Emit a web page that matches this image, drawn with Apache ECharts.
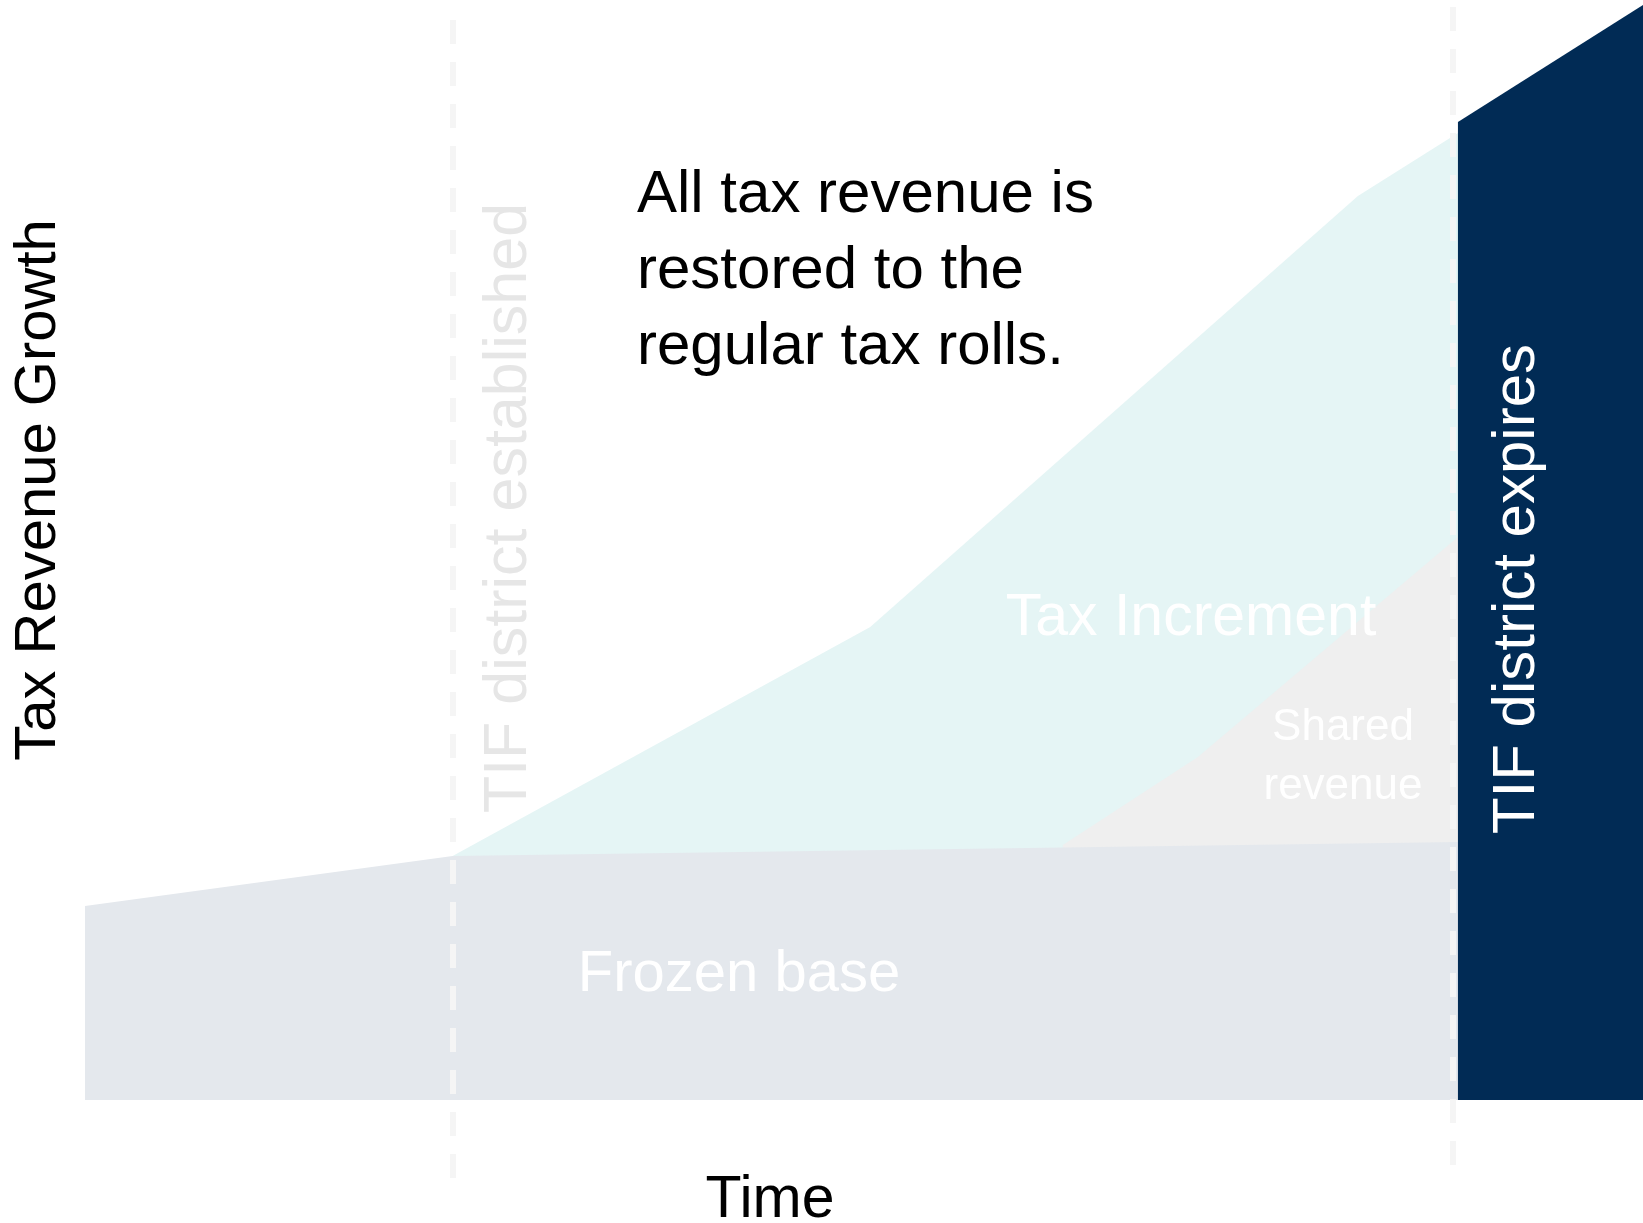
<!DOCTYPE html>
<html>
<head>
<meta charset="utf-8">
<title>Tax Increment Financing</title>
<script src="https://cdn.jsdelivr.net/npm/echarts@6/dist/echarts.min.js"></script>
<style>
  html, body { margin: 0; padding: 0; background: #ffffff; }
  #chart { width: 1643px; height: 1223px; }
</style>
</head>
<body>
<div id="chart"></div>
<script>
// Years relative to the creation of the TIF district
const establishedYear = 0;
const expiryYear = 20;

// Frozen assessed base (grows slowly before creation, then held)
const baseTime = [-7.35, 0, 20.1];
const baseValue = [19.4, 24.4, 25.8];

// Total tax revenue inside the district while the TIF is active
const totalTime = [0, 8.35, 18.1, 20.1];
const totalValue = [24.4, 47.3, 90.4, 96.7];

// Portion of the increment shared with other taxing bodies
const sharedTime = [12.2, 14.9, 20.1];
const sharedValue = [25.5, 34.3, 56.3];

// Revenue after the district expires
const afterTime = [20.1, 23.8];
const afterValue = [97.8, 109.5];

const pairs = (xs, ys) => xs.map((x, i) => [x, ys[i]]);

const FONT = '"Liberation Sans", Arial, sans-serif';

function areaSeries(name, xs, ys, color, z) {
  return {
    name: name,
    type: 'line',
    data: pairs(xs, ys),
    showSymbol: false,
    symbol: 'none',
    silent: true,
    z: z,
    lineStyle: { width: 0, color: color },
    areaStyle: { color: color, opacity: 1 }
  };
}

const chart = echarts.init(document.getElementById('chart'), null, { renderer: 'canvas' });

chart.setOption({
  animation: false,
  backgroundColor: '#ffffff',
  grid: { left: 0, right: 0, top: 0, bottom: 0, containLabel: false },
  xAxis: {
    type: 'value', min: -9.05, max: 23.8,
    show: false, splitLine: { show: false }
  },
  yAxis: {
    type: 'value', min: -12.3, max: 110,
    show: false, splitLine: { show: false }
  },
  series: [
    areaSeries('Tax Increment', totalTime, totalValue, '#e5f5f5', 1),
    areaSeries('Shared revenue', sharedTime, sharedValue, '#efefef', 2),
    areaSeries('Frozen base', baseTime, baseValue, '#e4e8ed', 3),
    areaSeries('After expiry', afterTime, afterValue, '#012b55', 3),
    {
      name: 'Milestones',
      type: 'line',
      data: [],
      z: 5,
      markLine: {
        silent: true,
        symbol: ['none', 'none'],
        label: { show: false },
        lineStyle: { color: '#f5f5f5', width: 6, type: [24, 18], opacity: 1 },
        data: [
          [{ coord: [establishedYear, 108] }, { coord: [establishedYear, -7.8] }],
          [{ coord: [expiryYear, 109.3] }, { coord: [expiryYear, -6.5] }]
        ]
      }
    }
  ],
  graphic: [
    {
      type: 'text', x: 39, y: 490, rotation: Math.PI / 2, z: 10,
      style: { text: 'Tax Revenue Growth', font: '58px ' + FONT, fill: '#000000', align: 'center', verticalAlign: 'middle' }
    },
    {
      type: 'text', x: 770, y: 1201, z: 10,
      style: { text: 'Time', font: '59px ' + FONT, fill: '#000000', align: 'center', verticalAlign: 'middle' }
    },
    {
      type: 'text', x: 509, y: 508, rotation: Math.PI / 2, z: 10,
      style: { text: 'TIF district established', font: '61px ' + FONT, fill: '#e6e6e6', align: 'center', verticalAlign: 'middle' }
    },
    {
      type: 'text', x: 1517, y: 589, rotation: Math.PI / 2, z: 10,
      style: { text: 'TIF district expires', font: '60px ' + FONT, fill: '#ffffff', align: 'center', verticalAlign: 'middle' }
    },
    {
      type: 'text', x: 637, y: 271, z: 10,
      style: { text: 'All tax revenue is\nrestored to the\nregular tax rolls.', font: '60px ' + FONT, lineHeight: 76, fill: '#000000', align: 'left', verticalAlign: 'middle' }
    },
    {
      type: 'text', x: 739, y: 975, z: 10,
      style: { text: 'Frozen base', font: '58px ' + FONT, fill: '#ffffff', align: 'center', verticalAlign: 'middle' }
    },
    {
      type: 'text', x: 1191, y: 619, z: 10,
      style: { text: 'Tax Increment', font: '59px ' + FONT, fill: '#ffffff', align: 'center', verticalAlign: 'middle' }
    },
    {
      type: 'text', x: 1343, y: 757, z: 10,
      style: { text: 'Shared\nrevenue', font: '44px ' + FONT, lineHeight: 59, fill: '#ffffff', align: 'center', verticalAlign: 'middle' }
    }
  ]
});
</script>
</body>
</html>
